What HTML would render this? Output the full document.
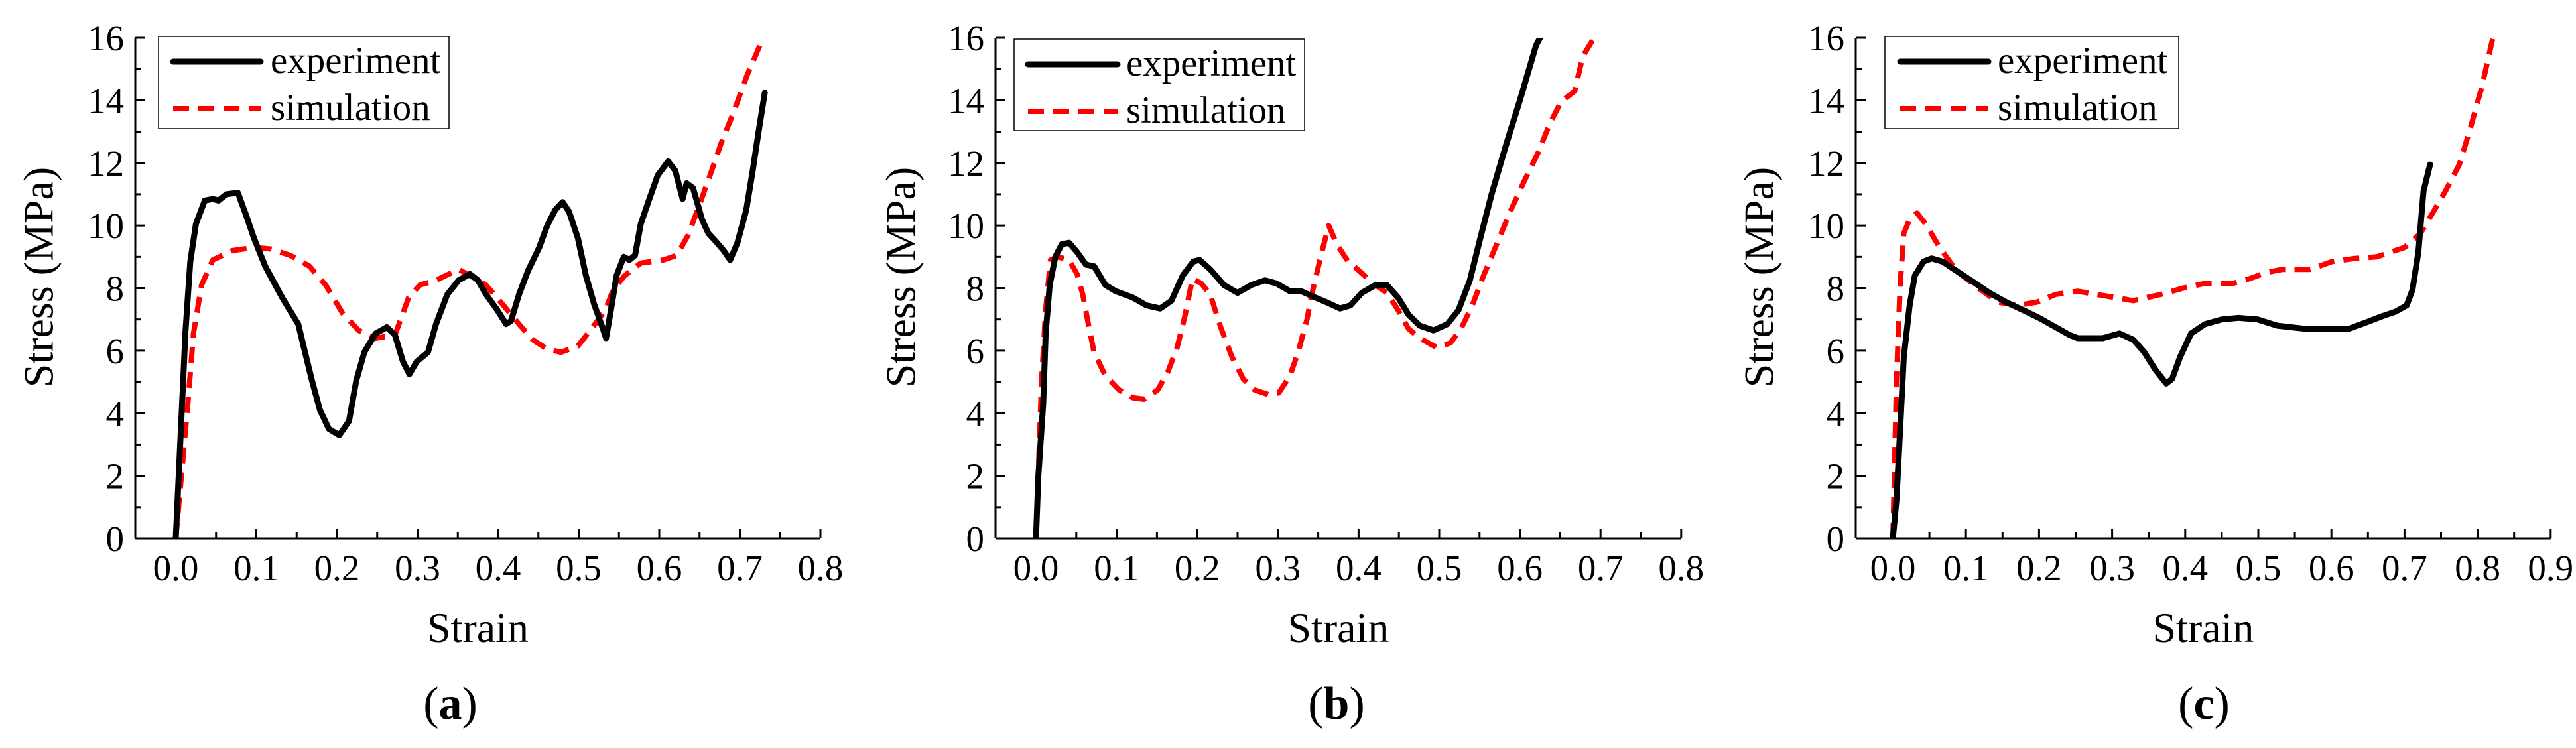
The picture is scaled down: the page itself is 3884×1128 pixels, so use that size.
<!DOCTYPE html>
<html><head><meta charset="utf-8"><style>
html,body{margin:0;padding:0;background:#fff;}
svg{display:block;}
svg text{font-family:"Liberation Serif","DejaVu Serif",serif;}
</style></head><body>
<svg id="fig" width="3884" height="1128" viewBox="0 0 3884 1128" xmlns="http://www.w3.org/2000/svg" font-family="'Liberation Serif', 'DejaVu Serif', serif"></svg>
<script>
// ---- Data (strain, stress MPa) ----
const aExpX=[0,0.005,0.012,0.018,0.025,0.036,0.046,0.053,0.063,0.077,0.087,0.097,0.111,0.132,0.152,0.159,0.169,0.179,0.19,0.203,0.215,0.224,0.234,0.248,0.262,0.272,0.282,0.29,0.299,0.313,0.323,0.337,0.351,0.365,0.375,0.385,0.399,0.41,0.416,0.426,0.437,0.451,0.461,0.471,0.48,0.488,0.499,0.509,0.519,0.53,0.534,0.54,0.547,0.556,0.563,0.57,0.577,0.587,0.598,0.611,0.62,0.629,0.634,0.642,0.653,0.661,0.67,0.68,0.688,0.697,0.708,0.716,0.723,0.731];
const aExpY=[0,2.75,6.6,8.85,10.05,10.8,10.85,10.8,11.0,11.05,10.35,9.6,8.7,7.7,6.85,6.1,5.05,4.1,3.5,3.3,3.75,5.05,5.95,6.55,6.75,6.5,5.65,5.25,5.65,5.95,6.85,7.8,8.25,8.45,8.25,7.8,7.3,6.85,6.95,7.8,8.55,9.3,10.0,10.5,10.75,10.45,9.6,8.4,7.5,6.7,6.4,7.3,8.4,9.0,8.9,9.05,10.05,10.8,11.6,12.05,11.75,10.85,11.35,11.2,10.2,9.75,9.5,9.2,8.9,9.45,10.5,11.75,12.95,14.25];
const aSimX=[0,0.007,0.015,0.022,0.032,0.046,0.07,0.097,0.118,0.142,0.166,0.186,0.207,0.227,0.248,0.272,0.289,0.303,0.323,0.351,0.365,0.385,0.405,0.426,0.443,0.461,0.478,0.499,0.516,0.533,0.543,0.557,0.577,0.605,0.622,0.636,0.649,0.663,0.677,0.692,0.709,0.729];
const aSimY=[0,2.0,4.3,6.55,8.1,8.9,9.2,9.3,9.25,9.05,8.7,8.1,7.2,6.65,6.4,6.5,7.7,8.1,8.25,8.6,8.4,8.1,7.5,6.85,6.35,6.05,5.95,6.15,6.7,7.3,7.95,8.4,8.8,8.9,9.05,9.7,10.6,11.6,12.65,13.6,14.8,16.0];
const bExpX=[0,0.003,0.009,0.012,0.017,0.024,0.032,0.041,0.051,0.062,0.072,0.086,0.099,0.12,0.137,0.154,0.168,0.182,0.195,0.203,0.216,0.233,0.25,0.267,0.284,0.298,0.315,0.329,0.342,0.36,0.377,0.39,0.404,0.421,0.435,0.449,0.462,0.476,0.493,0.51,0.524,0.538,0.551,0.565,0.582,0.6,0.62,0.625];
const bExpY=[0,2.0,4.3,6.55,8.1,9.0,9.4,9.45,9.15,8.75,8.7,8.1,7.9,7.7,7.45,7.35,7.6,8.4,8.85,8.9,8.6,8.1,7.85,8.1,8.25,8.15,7.9,7.9,7.75,7.55,7.35,7.45,7.85,8.1,8.1,7.7,7.15,6.8,6.65,6.85,7.3,8.25,9.6,11.0,12.5,14.0,15.75,16.0];
const bSimX=[0,0.003,0.007,0.012,0.018,0.027,0.041,0.051,0.058,0.065,0.072,0.086,0.103,0.12,0.134,0.151,0.164,0.175,0.185,0.194,0.205,0.216,0.229,0.243,0.257,0.271,0.288,0.301,0.315,0.325,0.336,0.342,0.353,0.363,0.373,0.387,0.401,0.418,0.435,0.449,0.462,0.476,0.497,0.514,0.527,0.541,0.555,0.572,0.589,0.606,0.623,0.637,0.651,0.668,0.678,0.692];
const bSimY=[0,2.15,5.05,7.3,8.9,9.0,8.9,8.45,7.8,6.85,5.95,5.2,4.75,4.5,4.45,4.75,5.35,6.1,7.15,8.3,8.15,7.8,6.75,5.8,5.1,4.75,4.6,4.65,5.2,5.95,7.0,7.8,9.0,10.0,9.4,8.85,8.55,8.15,7.85,7.3,6.7,6.4,6.1,6.25,6.7,7.45,8.4,9.45,10.5,11.45,12.35,13.25,13.95,14.3,15.4,16.0];
const cExpX=[0,0.005,0.01,0.015,0.023,0.03,0.042,0.053,0.068,0.087,0.11,0.132,0.155,0.178,0.2,0.223,0.242,0.253,0.269,0.287,0.31,0.329,0.344,0.359,0.374,0.382,0.393,0.408,0.427,0.45,0.473,0.499,0.526,0.564,0.594,0.624,0.647,0.669,0.688,0.703,0.711,0.719,0.726,0.735];
const cExpY=[0,1.25,3.5,5.8,7.45,8.4,8.85,8.95,8.85,8.55,8.2,7.85,7.55,7.3,7.05,6.75,6.5,6.4,6.4,6.4,6.55,6.35,5.95,5.4,4.95,5.1,5.8,6.55,6.85,7.0,7.05,7.0,6.8,6.7,6.7,6.7,6.9,7.1,7.25,7.45,7.95,9.15,11.1,11.95];
const cSimX=[0,0.002,0.005,0.01,0.015,0.023,0.033,0.045,0.064,0.087,0.117,0.144,0.17,0.197,0.223,0.253,0.291,0.329,0.367,0.397,0.427,0.465,0.488,0.511,0.533,0.571,0.601,0.632,0.662,0.7,0.722,0.741,0.756,0.775,0.79,0.806,0.821];
const cSimY=[0,2.0,5.05,8.1,9.75,10.2,10.4,10.05,9.3,8.55,8.0,7.55,7.45,7.55,7.8,7.9,7.75,7.6,7.8,8.0,8.15,8.15,8.3,8.5,8.6,8.6,8.85,8.95,9.0,9.3,9.75,10.5,11.1,11.95,13.1,14.45,16.0];
const xTicksAB=["0.0","0.1","0.2","0.3","0.4","0.5","0.6","0.7","0.8"];
const xTicksC=["0.0","0.1","0.2","0.3","0.4","0.5","0.6","0.7","0.8","0.9"];
const yTicks=["0","2","4","6","8","10","12","14","16"];
const panelLabels=["a","b","c"];

const NS="http://www.w3.org/2000/svg";
const FONT="'Liberation Serif', 'DejaVu Serif', serif";
const svg=document.getElementById('fig');
function mk(tag,attrs,parent){const e=document.createElementNS(NS,tag);for(const k in attrs)e.setAttribute(k,attrs[k]);if(tag==='text')e.setAttribute('font-family',FONT);(parent||svg).appendChild(e);return e;}

const panels=[
 {left:204,x0:265,step:121.5,xmax:0.8,ticks:xTicksAB,ex:[aExpX,aExpY],sim:[aSimX,aSimY],leg:[239,55,677,194,261,393,408],ytc:58,lab:679},
 {left:1501,x0:1562,step:121.6,xmax:0.8,ticks:xTicksAB,ex:[bExpX,bExpY],sim:[bSimX,bSimY],leg:[1529,59,1967,197,1550,1685,1698],ytc:1358,lab:2015},
 {left:2798,x0:2854,step:110.2,xmax:0.9,ticks:xTicksC,ex:[cExpX,cExpY],sim:[cSimX,cSimY],leg:[2842,55,3285,194,2865,2998,3012],ytc:2652,lab:3323}
];
const Y0=812, YT=57, ys=(Y0-YT)/16;

panels.forEach((p,i)=>{
 const X=v=>p.x0+v*p.step*10;
 const Y=v=>Y0-v*ys;
 const right=X(p.xmax);
 const g=mk('g',{});
 
 
 const cp=mk('clipPath',{id:'clip'+i},g);
 mk('rect',{x:p.left,y:YT,width:right-p.left,height:Y0-YT},cp);
 const draw=(xs,ysv,attrs,name)=>{
  let d='';xs.forEach((x,k)=>{d+=(k?'L':'M')+X(x).toFixed(1)+','+Y(ysv[k]).toFixed(1);});
  const pa=mk('path',Object.assign({d:d,fill:'none','clip-path':'url(#clip'+i+')','stroke-linejoin':'round'},attrs),g);
  
  
 };
 draw(p.sim[0],p.sim[1],{stroke:'#ff0000','stroke-width':8,'stroke-dasharray':'24 14'},'simulation-line');
 draw(p.ex[0],p.ex[1],{stroke:'#000','stroke-width':9,'stroke-linecap':'round'},'experiment-line');
 const xa=mk('line',{x1:p.left,y1:Y0,x2:right,y2:Y0,stroke:'#000','stroke-width':3},g);
 
 
 const ya=mk('line',{x1:p.left,y1:Y0,x2:p.left,y2:YT,stroke:'#000','stroke-width':3},g);
 
 
 p.ticks.forEach((t,k)=>{
  const x=X(parseFloat(t));
  mk('line',{x1:x,y1:Y0,x2:x,y2:Y0-15,stroke:'#000','stroke-width':3},g);
  const xm=X(parseFloat(t)+0.05);
  if(parseFloat(t)+0.05<=p.xmax+1e-9) mk('line',{x1:xm,y1:Y0,x2:xm,y2:Y0-9,stroke:'#000','stroke-width':3},g);
  const tx=mk('text',{x:x,y:875,'font-size':55,'text-anchor':'middle'},g);tx.textContent=t;
  
  
 });
 yTicks.forEach((t,k)=>{
  const y=Y(parseFloat(t));
  mk('line',{x1:p.left,y1:y,x2:p.left+15,y2:y,stroke:'#000','stroke-width':3},g);
  if(k<yTicks.length-1){const ym=Y(parseFloat(t)+1);mk('line',{x1:p.left,y1:ym,x2:p.left+9,y2:ym,stroke:'#000','stroke-width':3},g);}
  const tx=mk('text',{x:p.left-17,y:y+19,'font-size':55,'text-anchor':'end'},g);tx.textContent=t;
  
  
 });
 const yt=mk('text',{x:0,y:0,'font-size':64,'text-anchor':'middle','dominant-baseline':'central',transform:'translate('+p.ytc+',418) rotate(-90)'},g);
 yt.textContent='Stress (MPa)';
 
 
 const xt=mk('text',{x:(p.left+right)/2,y:968,'font-size':64,'text-anchor':'middle'},g);
 xt.textContent='Strain';
 
 
 const pl=mk('text',{x:p.lab,y:1084,'font-size':70,'text-anchor':'middle'},g);
 pl.innerHTML='(<tspan font-weight="bold">'+panelLabels[i]+'</tspan>)';
 
 
 const L=p.leg;
 const lg=mk('g',{},g);
 
 
 mk('rect',{x:L[0],y:L[1],width:L[2]-L[0],height:L[3]-L[1],fill:'#fff',stroke:'#000','stroke-width':1.5},lg);
 const r1=(L[1]+38), r2=(L[1]+109);
 mk('line',{x1:L[4],y1:r1,x2:L[5],y2:r1,stroke:'#000','stroke-width':9,'stroke-linecap':'round'},lg);
 mk('line',{x1:L[4],y1:r2,x2:L[5],y2:r2,stroke:'#ff0000','stroke-width':8,'stroke-dasharray':'24 14'},lg);
 const t1=mk('text',{x:L[6],y:r1+17,'font-size':57},lg);t1.textContent='experiment';
 
 
 const t2=mk('text',{x:L[6],y:r2+17,'font-size':57},lg);t2.textContent='simulation';
 
 
});
</script>
</body></html>
